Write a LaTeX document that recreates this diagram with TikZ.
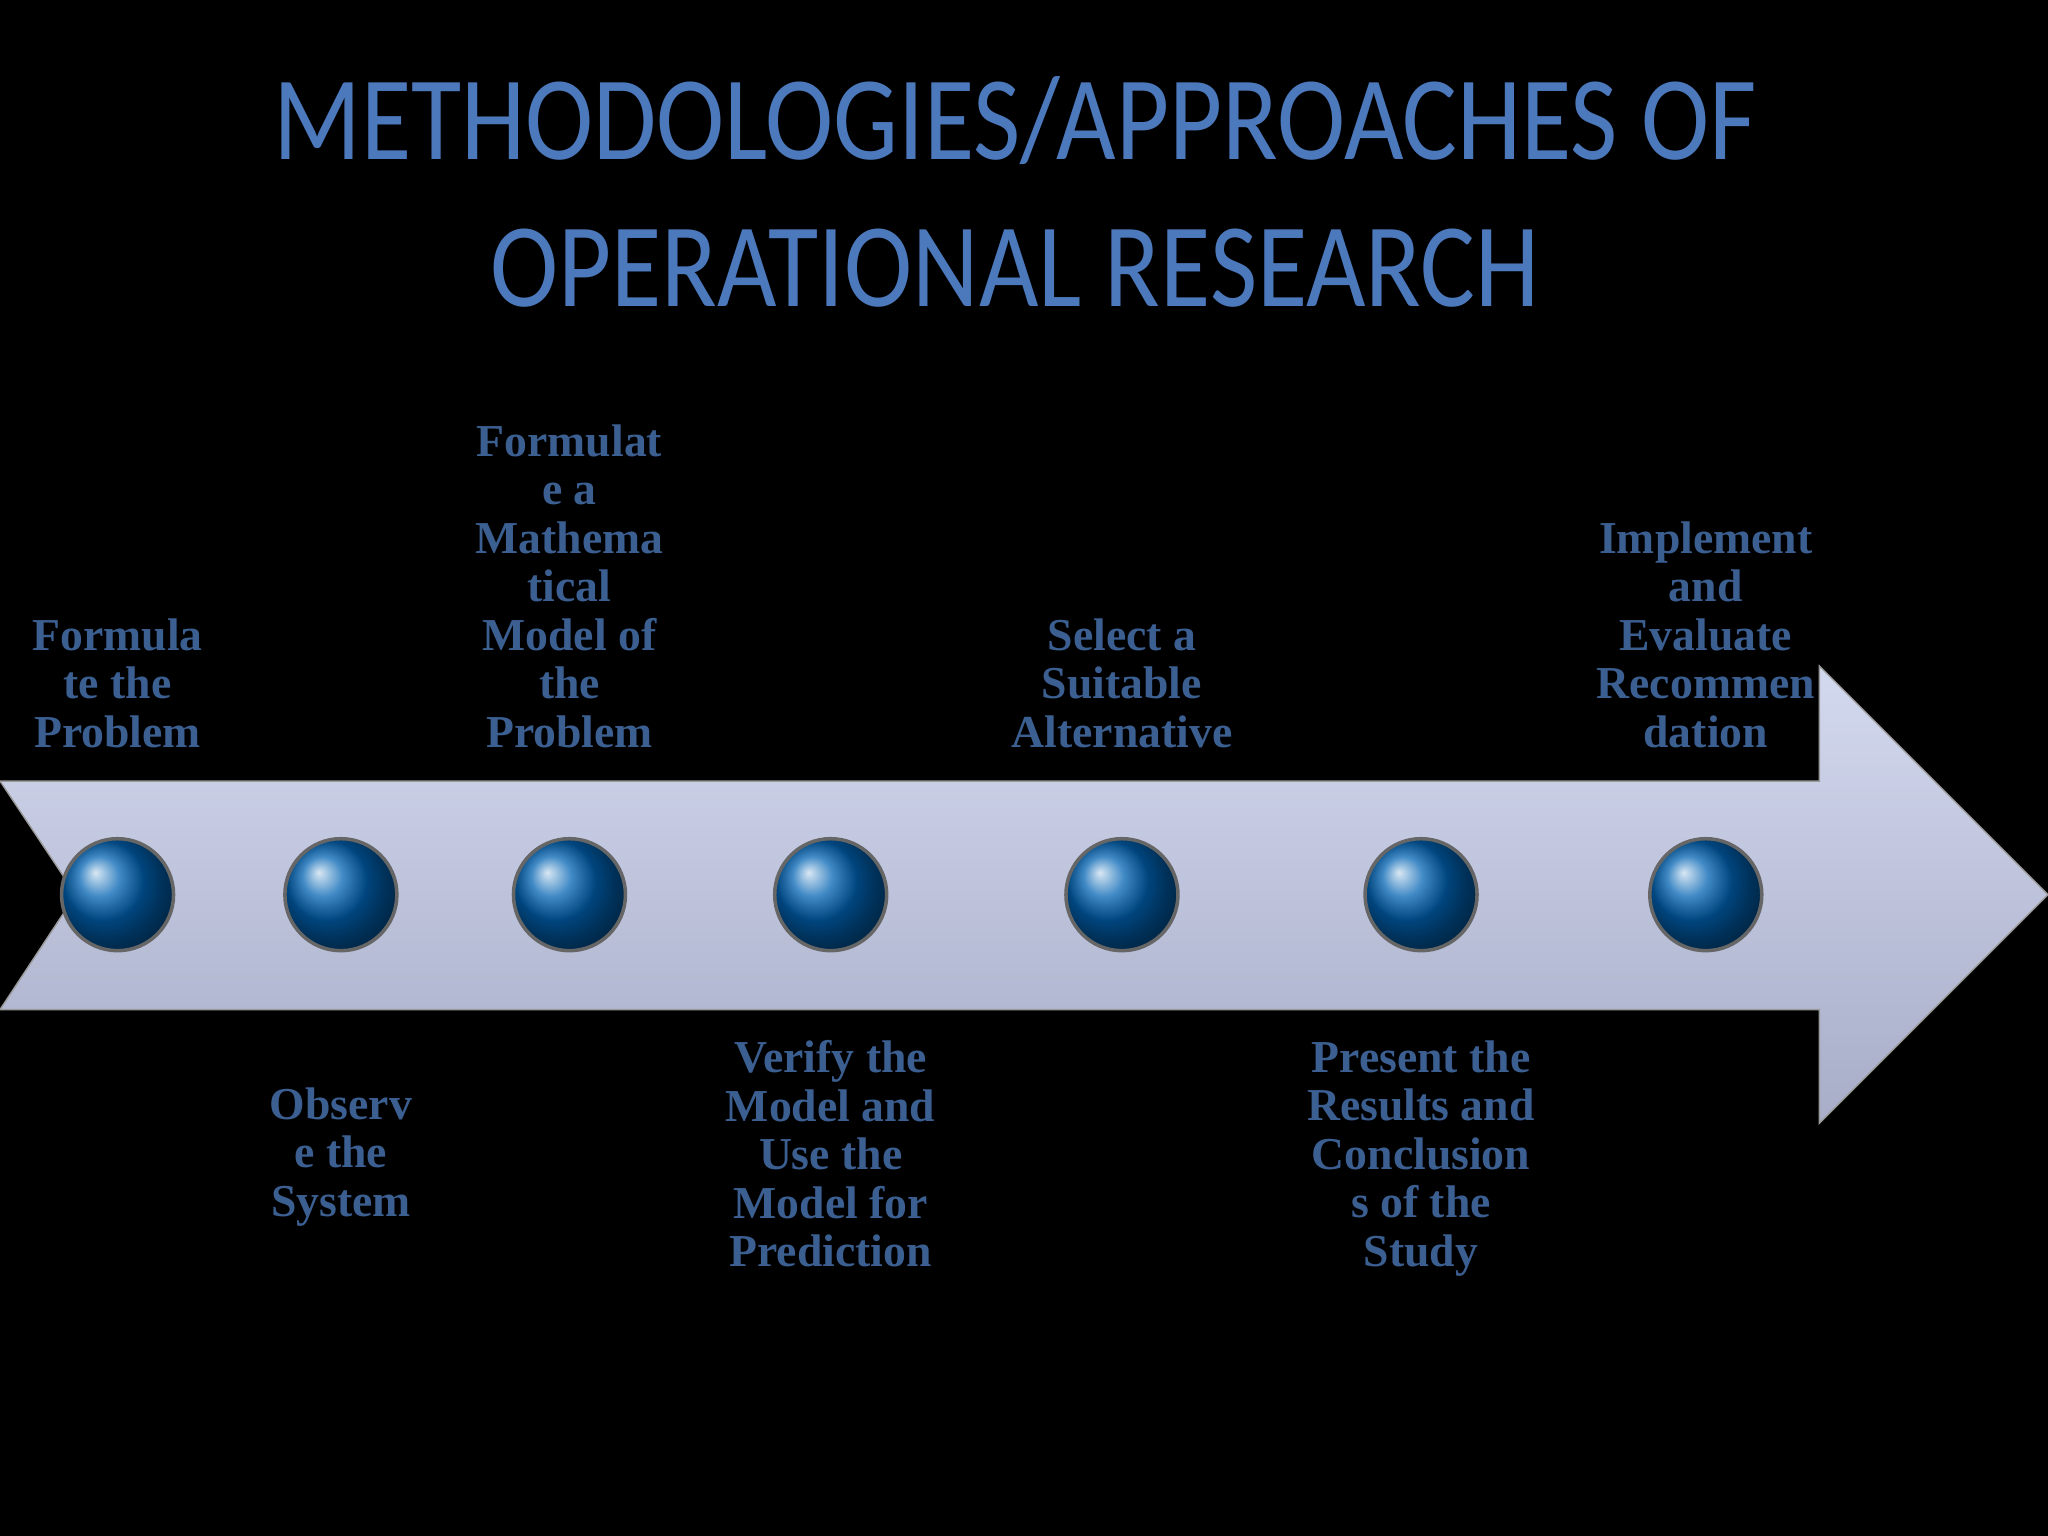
\documentclass[tikz,border=0pt]{standalone}
\usepackage{fontspec}
\usepackage{graphicx}
\setmainfont{Liberation Serif}
\newfontfamily\titlefont{Carlito}
\begin{document}
\begin{tikzpicture}[x=0.013061cm,y=-0.013061cm]
\definecolor{tblue}{HTML}{4C78BC}
\definecolor{lblue}{HTML}{3C5F92}
\definecolor{atop}{HTML}{D3D9EE}
\definecolor{abot}{HTML}{A8ADC8}
\tikzset{lab/.style={text=lblue,font=\bfseries\fontsize{13}{13.8}\selectfont,align=center,inner sep=0pt},
ttl/.style={text=tblue,font=\titlefont\fontsize{34}{40}\selectfont,inner sep=0pt},
ball/.style={circle,minimum size=1.12cm,inner sep=0pt,ball color=blue!45!cyan!70!black,draw=black!60,line width=1pt}}
\fill[black] (0,0) rectangle (1568,1176);
\useasboundingbox (0,0) rectangle (1568,1176);
\shade[top color=atop, bottom color=abot, draw=black!40]
 (0,598) -- (1393,598) -- (1393,510) -- (1568,685) -- (1393,860) -- (1393,773) -- (0,773) -- (58,685) -- cycle;
\node[ttl] (t1) at (777,92) {\scalebox{0.86}[1]{METHODOLOGIES/APPROACHES OF}};
\node[ttl] (t2) at (777,205) {\scalebox{0.86}[1]{OPERATIONAL RESEARCH}};
\foreach \n/\x in {c1/90,c2/261,c3/436,c4/636,c5/859,c6/1088,c7/1306}
  \node[ball] (\n) at (\x,685) {};
\node[lab,anchor=south] (l1) at (90,573) {Formula\\te the\\Problem};
\node[lab,anchor=south] (l3) at (436,573) {Formulat\\e a\\Mathema\\tical\\Model of\\the\\Problem};
\node[lab,anchor=south] (l5) at (859,573) {Select a\\Suitable\\Alternative};
\node[lab,anchor=south] (l7) at (1306,573) {Implement\\and\\Evaluate\\Recommen\\dation};
\node[lab,anchor=north] (l2) at (261,832) {Observ\\e the\\System};
\node[lab,anchor=north] (l4) at (636,796) {Verify the\\Model and\\Use the\\Model for\\Prediction};
\node[lab,anchor=north] (l6) at (1088,796) {Present the\\Results and\\Conclusion\\s of the\\Study};
\end{tikzpicture}
\end{document}
